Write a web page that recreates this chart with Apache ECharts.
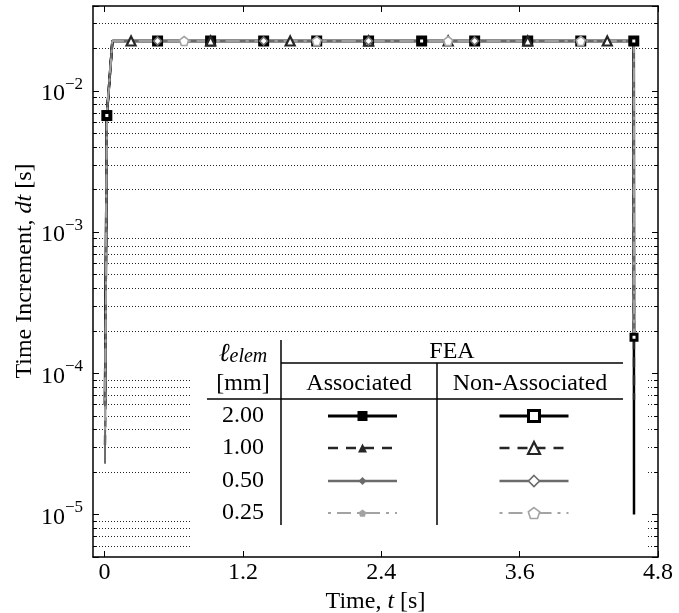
<!DOCTYPE html>
<html>
<head>
<meta charset="utf-8">
<script src="https://cdn.jsdelivr.net/npm/echarts@6/dist/echarts.min.js"></script>
<style>
  html, body { margin: 0; padding: 0; background: #fff; }
  #chart { width: 679px; height: 613px; }
</style>
</head>
<body>
<div id="chart"></div>
<script>
// ---- recorded solver output: time of each logged step [s] ----
const stepTimes = [0.004, 0.020, 0.068,
  0.23, 0.46, 0.69, 0.92, 1.15, 1.38, 1.61, 1.84, 2.06, 2.29,
  2.52, 2.75, 2.98, 3.21, 3.44, 3.67, 3.90, 4.13, 4.36, 4.59,
  4.592];

// ---- stable time increment dt [s] at each logged step ----
const dtAssoc200 = [6.0e-5, 6.7e-3, 0.0226,
  0.0226, 0.0226, 0.0226, 0.0226, 0.0226, 0.0226, 0.0226, 0.0226, 0.0226, 0.0226,
  0.0226, 0.0226, 0.0226, 0.0226, 0.0226, 0.0226, 0.0226, 0.0226, 0.0226, 0.0226,
  1.0e-5];
const dtNonAssoc200 = [6.0e-5, 6.7e-3, 0.0226,
  0.0226, 0.0226, 0.0226, 0.0226, 0.0226, 0.0226, 0.0226, 0.0226, 0.0226, 0.0226,
  0.0226, 0.0226, 0.0226, 0.0226, 0.0226, 0.0226, 0.0226, 0.0226, 0.0226, 0.0226,
  1.8e-4];
const dtAssoc100 = [3.1e-5, 6.7e-3, 0.0226,
  0.0226, 0.0226, 0.0226, 0.0226, 0.0226, 0.0226, 0.0226, 0.0226, 0.0226, 0.0226,
  0.0226, 0.0226, 0.0226, 0.0226, 0.0226, 0.0226, 0.0226, 0.0226, 0.0226, 0.0226,
  6.5e-5];
const dtNonAssoc100 = [3.1e-5, 6.7e-3, 0.0226,
  0.0226, 0.0226, 0.0226, 0.0226, 0.0226, 0.0226, 0.0226, 0.0226, 0.0226, 0.0226,
  0.0226, 0.0226, 0.0226, 0.0226, 0.0226, 0.0226, 0.0226, 0.0226, 0.0226, 0.0226,
  6.5e-5];
const dtAssoc050 = [2.3e-5, 6.7e-3, 0.0226,
  0.0226, 0.0226, 0.0226, 0.0226, 0.0226, 0.0226, 0.0226, 0.0226, 0.0226, 0.0226,
  0.0226, 0.0226, 0.0226, 0.0226, 0.0226, 0.0226, 0.0226, 0.0226, 0.0226, 0.0226,
  1.8e-4];
const dtNonAssoc050 = [2.3e-5, 6.7e-3, 0.0226,
  0.0226, 0.0226, 0.0226, 0.0226, 0.0226, 0.0226, 0.0226, 0.0226, 0.0226, 0.0226,
  0.0226, 0.0226, 0.0226, 0.0226, 0.0226, 0.0226, 0.0226, 0.0226, 0.0226, 0.0226,
  1.8e-4];
const dtAssoc025 = [4.0e-5, 6.7e-3, 0.0226,
  0.0226, 0.0226, 0.0226, 0.0226, 0.0226, 0.0226, 0.0226, 0.0226, 0.0226, 0.0226,
  0.0226, 0.0226, 0.0226, 0.0226, 0.0226, 0.0226, 0.0226, 0.0226, 0.0226, 0.0226,
  1.8e-4];
const dtNonAssoc025 = [4.0e-5, 6.7e-3, 0.0226,
  0.0226, 0.0226, 0.0226, 0.0226, 0.0226, 0.0226, 0.0226, 0.0226, 0.0226, 0.0226,
  0.0226, 0.0226, 0.0226, 0.0226, 0.0226, 0.0226, 0.0226, 0.0226, 0.0226, 0.0226,
  1.8e-4];

// ---- which logged steps carry a marker, per element size ----
const markSteps200 = [1, 4, 6, 8, 10, 12, 14, 16, 18, 20, 22];
const markSteps200Open = [1, 4, 6, 8, 10, 12, 14, 16, 18, 20, 22, 23];
const markSteps100 = [3, 6, 9, 12, 15, 18, 21];
const markSteps050 = [4, 8, 12, 16, 20];
const markSteps025 = [5, 10, 15, 20];

// ---- axes ----
const xTicks = [0, 1.2, 2.4, 3.6, 4.8];
const xRange = [-0.1, 4.8];
const yRange = [5e-6, 4e-2];
const yMinor = [6e-6, 7e-6, 8e-6, 9e-6,
  2e-5, 3e-5, 4e-5, 5e-5, 6e-5, 7e-5, 8e-5, 9e-5,
  2e-4, 3e-4, 4e-4, 5e-4, 6e-4, 7e-4, 8e-4, 9e-4,
  2e-3, 3e-3, 4e-3, 5e-3, 6e-3, 7e-3, 8e-3, 9e-3,
  2e-2, 3e-2];

// ---- legend table text ----
const elemSizes = ['2.00', '1.00', '0.50', '0.25'];
const formulations = ['Associated', 'Non-Associated'];

const FONT = 'Liberation Serif';
const PENTAGON = 'path://M0,-50 L47.55,-15.45 L29.39,40.45 L-29.39,40.45 L-47.55,-15.45 Z';

// visual style for each element size (filled = associated, open = non-associated)
const looks = [
  { color: '#000000', width: 2.5, dash: 'solid',        symbol: 'rect',     size: 11, openSize: 6,  openBorder: 3,   legOpen: 11 },
  { color: '#262626', width: 2.2, dash: [10, 8],        symbol: 'triangle', size: 10, openSize: 9,  openBorder: 2.2, legOpen: 12 },
  { color: '#6b6b6b', width: 1.8, dash: 'solid',        symbol: 'diamond',  size: 9,  openSize: 8,  openBorder: 1.6, legOpen: 11 },
  { color: '#a3a3a3', width: 1.6, dash: [3, 6, 14, 6],  symbol: PENTAGON,   size: 9,  openSize: 9,  openBorder: 1.6, legOpen: 12 }
];

const seriesData = [
  [dtAssoc200, dtNonAssoc200, markSteps200, markSteps200Open],
  [dtAssoc100, dtNonAssoc100, markSteps100, markSteps100],
  [dtAssoc050, dtNonAssoc050, markSteps050, markSteps050],
  [dtAssoc025, dtNonAssoc025, markSteps025, markSteps025]
];

function makeSeries(name, look, dt, steps, open) {
  const on = new Set(steps);
  return {
    type: 'line',
    name: name,
    z: 2,
    data: stepTimes.map((t, i) => ({ value: [t, dt[i]], symbol: on.has(i) ? look.symbol : 'none' })),
    symbol: look.symbol,
    symbolSize: open ? look.openSize : look.size,
    showSymbol: true,
    showAllSymbol: true,
    lineStyle: { color: look.color, width: look.width, type: look.dash },
    itemStyle: open
      ? { color: '#ffffff', borderColor: look.color, borderWidth: look.openBorder }
      : { color: look.color, borderWidth: 0 },
    emphasis: { disabled: true },
    silent: true,
    animation: false
  };
}

const series = [];

// minor grid (dotted) and minor ticks on both vertical frame edges
const tickDx = 0.03;
const gridSegs = [];
yMinor.forEach(v => {
  gridSegs.push({ coords: [[xRange[0], v], [xRange[1], v]],
                  lineStyle: { color: '#222', width: 1, type: [1, 2], opacity: 1 } });
  gridSegs.push({ coords: [[xRange[0], v], [xRange[0] + tickDx, v]],
                  lineStyle: { color: '#000', width: 1, type: 'solid', opacity: 1 } });
  gridSegs.push({ coords: [[xRange[1] - tickDx, v], [xRange[1], v]],
                  lineStyle: { color: '#000', width: 1, type: 'solid', opacity: 1 } });
});
series.push({
  type: 'lines',
  name: 'minor grid',
  coordinateSystem: 'cartesian2d',
  xAxisIndex: 0,
  yAxisIndex: 0,
  z: 0,
  silent: true,
  animation: false,
  polyline: false,
  large: false,
  lineStyle: { opacity: 1 },
  emphasis: { disabled: true },
  data: gridSegs
});

elemSizes.forEach((sz, k) => {
  const [dA, dN, sA, sN] = seriesData[k];
  series.push(makeSeries(sz + ' ' + formulations[0], looks[k], dA, sA, false));
  series.push(makeSeries(sz + ' ' + formulations[1], looks[k], dN, sN, true));
});

function decadeLabel(v) {
  const e = Math.log10(v);
  const r = Math.round(e);
  if (Math.abs(e - r) > 1e-6) return '';
  return '{b|10}{s|\u2212' + Math.abs(r) + '}';
}

// ---- legend table drawn as graphics ----
const g = [];
const T = (text, x, y, extra) => Object.assign({
  type: 'text', x: x, y: y, z: 6, silent: true,
  style: Object.assign({
    text: text, fill: '#000', fontFamily: FONT, fontSize: 24,
    align: 'center', verticalAlign: 'middle', textAlign: 'center', textVerticalAlign: 'middle'
  }, extra || {})
});
const L = (x1, y1, x2, y2, w) => ({
  type: 'line', z: 6, silent: true,
  shape: { x1: x1, y1: y1, x2: x2, y2: y2 },
  style: { stroke: '#000', lineWidth: w || 1.5 }
});

g.push({ type: 'rect', z: 1, silent: true, shape: { x: 192, y: 334, width: 455, height: 222 }, style: { fill: '#fff' } });
g.push(T('{l|\u2113}{e|elem}', 243, 354, {
  rich: {
    l: { fontFamily: FONT, fontStyle: 'italic', fontSize: 26, verticalAlign: 'bottom', lineHeight: 26 },
    e: { fontFamily: FONT, fontStyle: 'italic', fontSize: 20, verticalAlign: 'bottom', lineHeight: 22 }
  }
}));
g.push(T('[mm]', 243, 384));
g.push(T('FEA', 452, 352));
g.push(T(formulations[0], 359, 384));
g.push(T(formulations[1], 530, 384));
g.push(L(281, 340, 281, 525));
g.push(L(437, 363, 437, 525));
g.push(L(281, 363, 623, 363));
g.push(L(207, 399, 623, 399));

const rowY = [416, 448, 481, 513];
const colX = [362.5, 534];

function markerShape(name, cx, cy, s, fill, stroke, lw) {
  const style = { fill: fill, stroke: stroke, lineWidth: lw };
  if (name === 'rect') {
    return { type: 'rect', z: 7, silent: true, shape: { x: cx - s / 2, y: cy - s / 2, width: s, height: s }, style: style };
  }
  let pts;
  if (name === 'triangle') {
    pts = [[cx, cy - s / 2], [cx + s / 2, cy + s / 2], [cx - s / 2, cy + s / 2]];
  } else if (name === 'diamond') {
    pts = [[cx, cy - s / 2], [cx + s / 2, cy], [cx, cy + s / 2], [cx - s / 2, cy]];
  } else {
    pts = [];
    for (let i = 0; i < 5; i++) {
      const a = -Math.PI / 2 + i * 2 * Math.PI / 5;
      pts.push([cx + s / 2 * Math.cos(a), cy + s / 2 * Math.sin(a) + s * 0.05]);
    }
  }
  return { type: 'polygon', z: 7, silent: true, shape: { points: pts }, style: style };
}

elemSizes.forEach((sz, k) => {
  const lk = looks[k];
  g.push(T(sz, 243, rowY[k]));
  colX.forEach((cx, j) => {
    g.push({
      type: 'line', z: 6, silent: true,
      shape: { x1: cx - 34.5, y1: rowY[k], x2: cx + 34.5, y2: rowY[k] },
      style: { stroke: lk.color, lineWidth: lk.width + 0.5, lineDash: Array.isArray(lk.dash) ? lk.dash : null }
    });
    if (j === 0) {
      g.push(markerShape(lk.symbol, cx, rowY[k], lk.size - 1, lk.color, lk.color, 0));
    } else {
      g.push(markerShape(lk.symbol, cx, rowY[k], lk.legOpen, '#fff', lk.color, lk.openBorder));
    }
  });
});

// y-axis title
g.push({
  type: 'text', x: 25, y: 271, rotation: Math.PI / 2, z: 6, silent: true,
  style: {
    text: 'Time Increment, {i|dt} [s]', fill: '#000', fontFamily: FONT, fontSize: 24,
    align: 'center', verticalAlign: 'middle', textAlign: 'center', textVerticalAlign: 'middle',
    rich: { i: { fontFamily: FONT, fontSize: 24, fontStyle: 'italic' } }
  }
});

const axisLineStyle = { show: true, onZero: false, lineStyle: { color: '#000', width: 1.5 } };

const option = {
  backgroundColor: '#fff',
  animation: false,
  grid: { left: 93, right: 21, top: 6, bottom: 56, containLabel: false, outerBoundsMode: 'none' },
  xAxis: [
    {
      type: 'value', position: 'bottom', min: xRange[0], max: xRange[1], z: 3,
      axisLine: axisLineStyle,
      axisTick: { inside: true, length: 6, customValues: xTicks, lineStyle: { color: '#000', width: 1 } },
      axisLabel: { customValues: xTicks, margin: 4, color: '#000', fontFamily: FONT, fontSize: 24,
                   formatter: v => String(v) },
      splitLine: { show: false },
      name: 'Time, {i|t} [s]',
      nameLocation: 'middle',
      nameGap: 26,
      nameTextStyle: { color: '#000', fontFamily: FONT, fontSize: 24,
                       rich: { i: { fontFamily: FONT, fontSize: 24, fontStyle: 'italic' } } }
    },
    {
      type: 'value', position: 'top', min: xRange[0], max: xRange[1], z: 3,
      axisLine: axisLineStyle,
      axisTick: { inside: true, length: 6, customValues: xTicks, lineStyle: { color: '#000', width: 1 } },
      axisLabel: { show: false },
      splitLine: { show: false }
    }
  ],
  yAxis: [
    {
      type: 'log', logBase: 10, position: 'left', min: yRange[0], max: yRange[1], z: 3,
      axisLine: axisLineStyle,
      axisTick: { inside: true, length: 6, lineStyle: { color: '#000', width: 1 } },
      axisLabel: {
        margin: 10, color: '#000',
        formatter: decadeLabel,
        rich: {
          b: { fontFamily: FONT, fontSize: 24, lineHeight: 30, verticalAlign: 'bottom', color: '#000' },
          s: { fontFamily: FONT, fontSize: 17, lineHeight: 17, verticalAlign: 'top', color: '#000' }
        }
      },
      splitLine: { show: false },
      minorTick: { show: false }
    },
    {
      type: 'log', logBase: 10, position: 'right', min: yRange[0], max: yRange[1], z: 3,
      axisLine: axisLineStyle,
      axisTick: { inside: true, length: 6, lineStyle: { color: '#000', width: 1 } },
      axisLabel: { show: false },
      splitLine: { show: false }
    }
  ],
  graphic: { elements: g },
  series: series
};

const chart = echarts.init(document.getElementById('chart'), null, { renderer: 'canvas' });
chart.setOption(option);
</script>
</body>
</html>
